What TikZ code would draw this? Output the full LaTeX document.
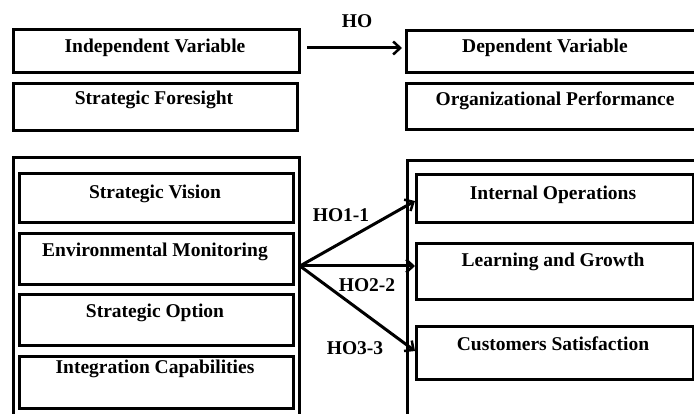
\documentclass[tikz,border=0pt]{standalone}
\usepackage{fontspec}
\setmainfont{Liberation Serif}
\usetikzlibrary{arrows.meta}
\begin{document}
\begin{tikzpicture}[x=1pt,y=-1pt,
  boxshape/.style={draw=black,line width=3pt,rectangle,inner sep=0pt,anchor=north west},
  txt/.style={font=\fontsize{19.5}{22}\selectfont\bfseries,inner sep=0pt,anchor=base},
  conn/.style={line width=3pt,-{Straight Barb[length=7pt,width=13pt,line width=2.5pt]}}]
\useasboundingbox (0,0) rectangle (694,414);
\clip (0,0) rectangle (694,414);
% top row
\node[boxshape,minimum width=286pt,minimum height=43pt] (iv) at (12,28) {};
\node[boxshape,minimum width=284pt,minimum height=47pt] (sf) at (12,82) {};
\node[boxshape,minimum width=300pt,minimum height=42pt] (dv) at (405,29) {};
\node[boxshape,minimum width=300pt,minimum height=46pt] (op) at (405,82) {};
\node[txt] (ivt) at (155,53) {Independent Variable};
\node[txt] (sft) at (154,105) {Strategic Foresight};
\node[txt] (dvt) at (545,53) {Dependent Variable};
\node[txt] (opt) at (555,106) {Organizational Performance};
\draw[conn,shorten <=6pt,shorten >=3pt] (iv.east |- 0,48) coordinate (hoa) -- (dv.west |- 0,48) coordinate (hob);
\node[txt] (ho) at (357,28) {HO};
% left group
\node[boxshape,minimum width=286pt,minimum height=300pt] (lg) at (12,156) {};
\node[boxshape,minimum width=274pt,minimum height=49pt] (sv) at (18,172) {};
\node[boxshape,minimum width=274pt,minimum height=51pt] (em) at (18,232) {};
\node[boxshape,minimum width=274pt,minimum height=51pt] (so) at (18,293) {};
\node[boxshape,minimum width=274pt,minimum height=52pt] (ic) at (18,355) {};
\node[txt] (svt) at (155,199) {Strategic Vision};
\node[txt] (emt) at (155,257) {Environmental Monitoring};
\node[txt] (sot) at (155,318) {Strategic Option};
\node[txt] (ict) at (155,373) {Integration Capabilities};
% right group
\node[boxshape,minimum width=300pt,minimum height=300pt] (rg) at (406,159) {};
\node[boxshape,minimum width=277pt,minimum height=48pt] (io) at (415,173) {};
\node[boxshape,minimum width=277pt,minimum height=56pt] (lgr) at (415,242) {};
\node[boxshape,minimum width=277pt,minimum height=53pt] (cs) at (415,325) {};
\node[txt] (iot) at (553,200) {Internal Operations};
\node[txt] (lgt) at (553,267) {Learning and Growth};
\node[txt] (cst) at (553,350) {Customers Satisfaction};
% connectors
\coordinate (src) at (300,266);
\draw[conn] (src) -- (io.west |- 0,201);
\draw[conn] (src) -- (lgr.west |- 0,266);
\draw[conn] (src) -- (cs.west |- 0,351);
\node[txt] (h1) at (341,222) {HO1-1};
\node[txt] (h2) at (367,292) {HO2-2};
\node[txt] (h3) at (355,355) {HO3-3};
\end{tikzpicture}
\end{document}
